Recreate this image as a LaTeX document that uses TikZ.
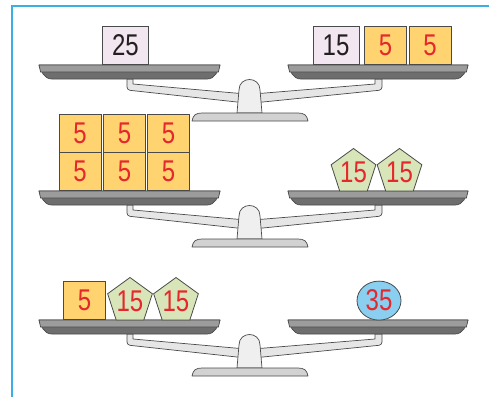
\documentclass[tikz,border=0pt]{standalone}
\usepackage{fontspec}
\setmainfont{Liberation Sans}
\newfontfamily\numfont[FakeStretch=0.8]{Liberation Sans}
\usetikzlibrary{shapes.geometric}
\definecolor{framebl}{HTML}{3BAEE6}
\definecolor{edge}{HTML}{4A4A4A}
\definecolor{panlt}{HTML}{9C9C9C}
\definecolor{pandk}{HTML}{6E6E6E}
\definecolor{beamfill}{HTML}{E6E6E6}
\definecolor{postfill}{HTML}{EFEFEF}
\definecolor{basefill}{HTML}{D2D2D2}
\definecolor{goldfill}{HTML}{FFD470}
\definecolor{lavfill}{HTML}{F2E6F0}
\definecolor{greenfill}{HTML}{D8E5B8}
\definecolor{bluefill}{HTML}{8ACEF0}
\definecolor{numred}{HTML}{E4282C}
\definecolor{numdark}{HTML}{231F20}

\begin{document}
\begin{tikzpicture}[x=1pt,y=-1pt,
    wt/.style={draw=edge,line width=0.8pt,inner sep=0pt,
      minimum height=38pt,anchor=south,font=\numfont\fontsize{30}{30}\selectfont},
    five/.style={wt,fill=goldfill,text=numred,minimum width=42pt},
    big/.style={wt,fill=lavfill,text=numdark,minimum width=46pt},
    penta/.style={regular polygon,regular polygon sides=5,draw=edge,line width=0.8pt,
      fill=greenfill,text=numred,minimum size=47pt,inner sep=0pt,
      font=\numfont\fontsize{30}{30}\selectfont},
    ball/.style={ellipse,draw=edge,line width=0.8pt,fill=bluefill,text=numred,
      minimum width=44pt,minimum height=39pt,inner sep=0pt,anchor=south,
      font=\numfont\fontsize{30}{30}\selectfont},
    part/.style={draw=edge,line width=0.7pt,line join=round},
    balance/.pic={
      % beam arms
      \path[part,fill=beamfill,rounded corners=3pt]
        (127,14) -- (127,25) -- (246,38) [sharp corners] -- (246,29) -- (133,19) -- (133,14) -- cycle;
      \path[part,fill=beamfill,rounded corners=3pt]
        (382,14) -- (382,25) -- (253,38) [sharp corners] -- (253,29) -- (375,19) -- (375,14) -- cycle;
      % post and base
      \path[part,fill=postfill] (237,48) -- (239,25)
        .. controls (239,11) and (260,11) .. (260,25) -- (262,48) -- cycle;
      \path[part,fill=basefill] (192,56) .. controls (193,50) and (196,48) .. (202,48)
        -- (298,48) .. controls (304,48) and (307,50) .. (308,56) -- cycle;
      % pans
      \foreach \xl/\xr in {39/220,288/468}{
        \path[part,fill=pandk] (\xl,0) -- (\xr,0)
          .. controls ({\xr-2},6) and ({\xr-5},14) .. ({\xr-13},14) -- ({\xl+13},14)
          .. controls ({\xl+5},14) and ({\xl+2},6) .. (\xl,0) -- cycle;
        \path[part,fill=panlt] (\xl,0) -- (\xr,0) -- ({\xr-1.6},7) -- ({\xl+1.6},7) -- cycle;
      }
    }]
  \useasboundingbox (0,0) rectangle (489,397);
  \draw[framebl,line width=1.3pt] (12,397) -- (12,6) -- (489,6);

  % first balance
  \pic at (0,65) {balance};
  \node[big] (a25) at (125.5,65) {25};
  \node[big] (a15) at (336,65) {15};
  \node[five] (a5a) at (385.5,65) {5};
  \node[five] (a5b) at (430,65) {5};

  % second balance
  \pic at (0,191) {balance};
  \foreach \cx [count=\i] in {80,124.5,168.5}{
    \node[five] (b5lo\i) at (\cx,191) {5};
    \node[five] (b5hi\i) at (\cx,153) {5};
  }
  \node[penta] (b15a) at (353.5,172) {15};
  \node[penta] (b15b) at (399.5,172) {15};

  % third balance
  \pic at (0,320) {balance};
  \node[five] (c5) at (84.5,320) {5};
  \node[penta] (c15a) at (130,301) {15};
  \node[penta] (c15b) at (176,301) {15};
  \node[ball] (c35) at (379,320.5) {35};
\end{tikzpicture}
\end{document}
